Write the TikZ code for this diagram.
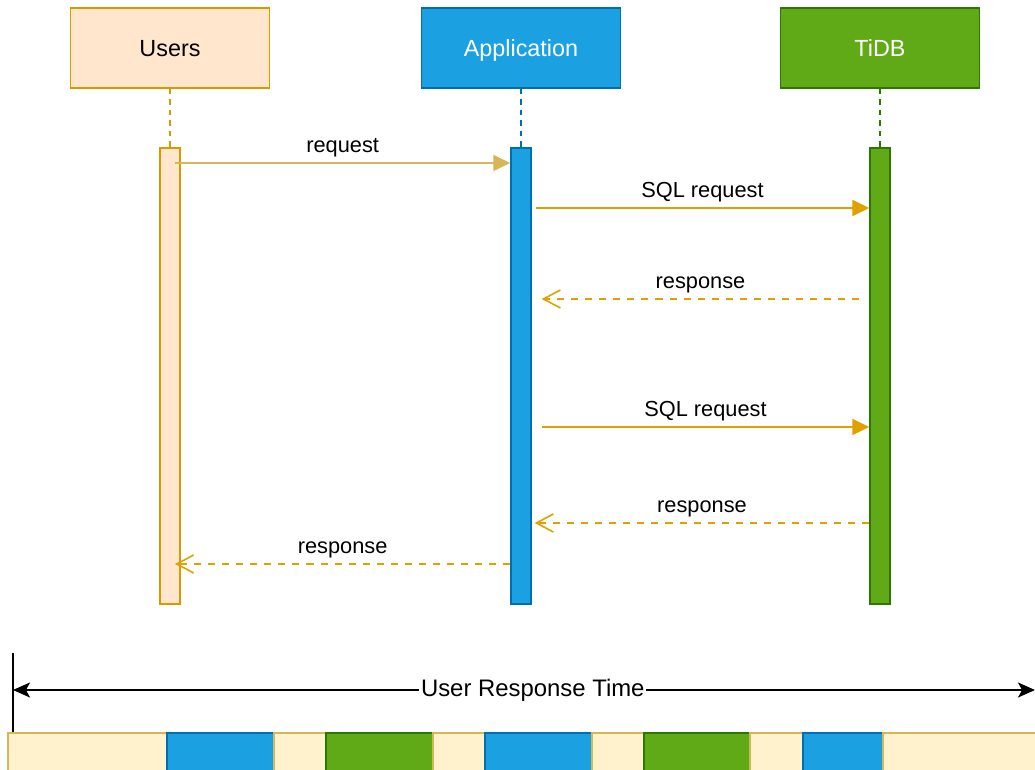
\documentclass[tikz,border=0pt]{standalone}
\usepackage{fontspec}
\setmainfont{Liberation Sans}
\usepackage{xcolor}
\usetikzlibrary{arrows.meta, positioning, calc}

\definecolor{userfill}{HTML}{FFE6CC}
\definecolor{userline}{HTML}{D79B00}
\definecolor{appfill}{HTML}{1BA1E2}
\definecolor{appline}{HTML}{006EAF}
\definecolor{dbfill}{HTML}{60A917}
\definecolor{dbline}{HTML}{2D7600}
\definecolor{waitfill}{HTML}{FFF2CC}
\definecolor{waitline}{HTML}{D6B656}
\definecolor{msgline}{HTML}{E0A000}

\begin{document}
\begin{tikzpicture}[
      x=0.02cm, y=-0.02cm,
      actor/.style={rectangle, draw, line width=0.9pt, minimum width=3.98cm, minimum height=1.6cm, text height=10pt, text depth=0.5pt, font=\fontsize{13.3}{15}\selectfont},
      bar/.style={rectangle, draw, line width=0.8pt, minimum width=0.4cm, minimum height=9.12cm, inner sep=0pt},
      life/.style={dashed, dash pattern=on 3pt off 3pt, line width=0.7pt},
      req/.style={-{Triangle[length=3.4mm, width=3.2mm]}, line width=0.9pt},
      resp/.style={-{Straight Barb[length=3.4mm, width=3.6mm]}, dashed, dash pattern=on 4pt off 4pt, line width=0.9pt, msgline},
      lbl/.style={font=\fontsize{12.4}{14}\selectfont, above, inner sep=3pt},
      wait/.style={fill=waitfill, draw=waitline, line width=0.8pt},
      appseg/.style={fill=appfill, draw=appline, line width=0.8pt},
      dbseg/.style={fill=dbfill, draw=dbline, line width=0.8pt}
    ]
    \useasboundingbox (0,0) rectangle (1035,770);
    \clip (0,0) rectangle (1035,770);

    % Participants
    \node[actor, fill=userfill, draw=userline] (users) at (170,48) {Users};
    \node[actor, fill=appfill, draw=appline, text=white] (app) at (521,48) {Application};
    \node[actor, fill=dbfill, draw=dbline, text=white] (tidb) at (880,48) {TiDB};

    % Activation bars
    \node[bar, fill=userfill, draw=userline] (ubar) at (170,376) {};
    \node[bar, fill=appfill, draw=appline] (abar) at (521,376) {};
    \node[bar, fill=dbfill, draw=dbline] (dbar) at (880,376) {};

    % Lifelines
    \draw[life, userline] (users) -- (ubar);
    \draw[life, appline] (app) -- (abar);
    \draw[life, dbline] (tidb) -- (dbar);

    % Messages
    \draw[req, waitline] ($(ubar.center |- 0,163)+(5,0)$) -- node[lbl, black] {request} (abar.west |- 0,163);
    \draw[req, msgline] ($(abar.east |- 0,208)+(4,0)$) -- node[lbl, black] {SQL request} (dbar.west |- 0,208);
    \draw[resp] ($(dbar.west |- 0,299)+(-10,0)$) -- node[lbl, black] {response} ($(abar.east |- 0,299)+(10,0)$);
    \draw[req, msgline] ($(abar.east |- 0,427)+(10,0)$) -- node[lbl, black] {SQL request} (dbar.west |- 0,427);
    \draw[resp] (dbar.west |- 0,523) -- node[lbl, black] {response} ($(abar.east |- 0,523)+(3,0)$);
    \draw[resp] (abar.west |- 0,564) -- node[lbl, black] {response} ($(ubar.center |- 0,564)+(5,0)$);

    % Response time span
    \coordinate (tstart) at (13,690);
    \coordinate (tend) at (1035,690);
    \draw[line width=0.7pt] (13,653) -- (13,733);
    \draw[{Stealth[length=3.4mm, width=3mm, inset=0.8mm]}-{Stealth[length=3.4mm, width=3mm, inset=0.8mm]}, line width=0.9pt] (tstart) -- node[fill=white, inner sep=1pt, xshift=5, font=\fontsize{13.6}{15}\selectfont] (rtlabel) {User Response Time} (tend);

    % Time bar
    \foreach \xa/\xb/\kind in {8/167/wait, 167/274/appseg, 274/326/wait, 326/433/dbseg, 433/485/wait, 485/592/appseg, 592/644/wait, 644/750/dbseg, 750/803/wait, 803/883/appseg, 883/1040/wait}
      \draw[\kind] (\xa,733) rectangle (\xb,780);
  \end{tikzpicture}
\end{document}
